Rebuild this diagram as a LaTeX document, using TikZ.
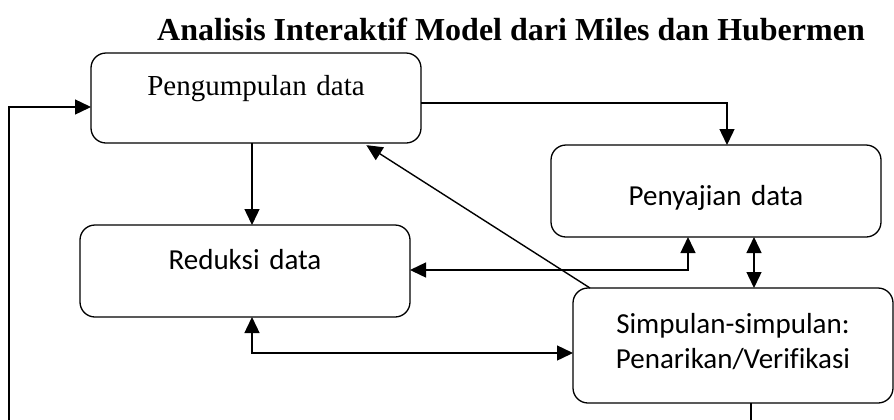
\documentclass[tikz,border=0pt]{standalone}
\usepackage{fontspec}
\setmainfont{Liberation Serif}
\newfontfamily\calibri[Ligatures=CommonOff]{Carlito}
\usetikzlibrary{calc, arrows.meta}

\begin{document}
\begin{tikzpicture}[x=0.5pt, y=-0.5pt,
    kotak/.style={draw, line width=0.65pt, rounded corners=7.5pt, inner sep=0pt, outer sep=0pt,
        align=center, anchor=north west, font=\fontsize{14.5}{17.5}\selectfont},
    sans/.style={font=\calibri\fontsize{14.5}{17.5}\selectfont},
    panah/.style={line width=0.7pt, -{Triangle[length=8pt, width=7.5pt]}},
    panah2/.style={line width=0.7pt, {Triangle[length=8pt, width=7.5pt]}-{Triangle[length=8pt, width=7.5pt]}}]
    % Fix the frame
    \useasboundingbox (0,0) rectangle (894,419);

    % Title
    \node[font=\bfseries\fontsize{16}{19}\selectfont, anchor=base] (judul) at (511,40)
        {Analisis Interaktif Model dari Miles dan Hubermen};

    % Draw the boxes
    \node[kotak, text width=165pt, text height=21pt, text depth=24pt] (kumpul) at (91,53) {Pengumpulan data};
    \node[kotak, sans, text width=165pt, text height=30pt, text depth=16pt] (saji) at (551,145) {Penyajian data};
    \node[kotak, sans, text width=165pt, text height=22pt, text depth=24pt] (reduksi) at (80,225) {Reduksi data};
    \node[kotak, sans, text width=160pt, text height=22.5pt, text depth=35pt] (simpul) at (573,288)
        {Simpulan-simpulan:\\ Penarikan/Verifikasi};

    % Arrows between the boxes
    \draw[panah] (kumpul.east |- 0,103) -| (727,0 |- saji.north);
    \draw[panah] (252,0 |- kumpul.south) -- (252,0 |- reduksi.north);
    \draw[panah, shorten >=2pt] (590,0 |- simpul.north) -- (363,0 |- kumpul.south);
    \draw[panah2] (reduksi.east |- 0,270) -| (688,0 |- saji.south);
    \draw[panah2] (754,0 |- saji.south) -- (754,0 |- simpul.north);
    \draw[panah2] (252,0 |- reduksi.south) |- (simpul.west |- 0,353);

    % Feedback loop, runs out below the frame
    \begin{scope}
        \clip (0,0) rectangle (894,419);
        \draw[panah] (751,0 |- simpul.south) -- (751,430) -| (9,107) -- (kumpul.west |- 0,107);
    \end{scope}

\end{tikzpicture}
\end{document}
